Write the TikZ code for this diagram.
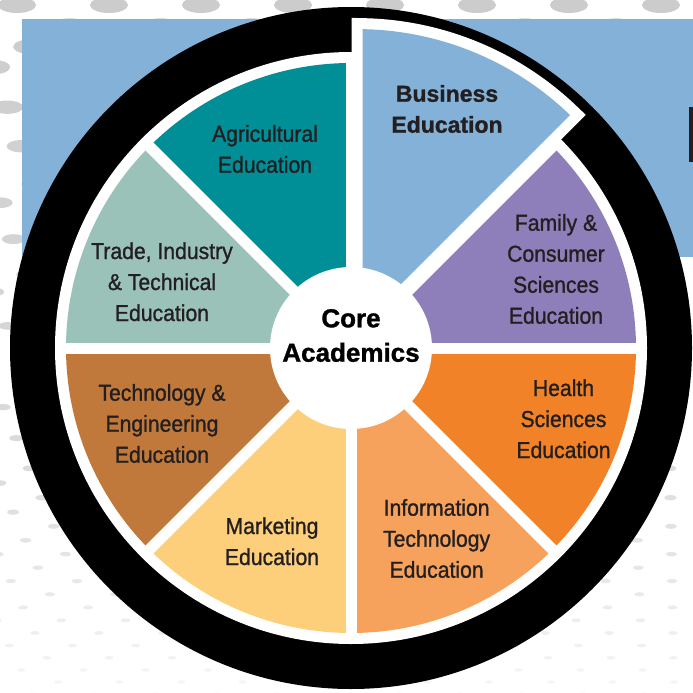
\documentclass[tikz,border=0pt]{standalone}
\usepackage{fontspec}
\setmainfont{Liberation Sans}
\newfontfamily\condfont[FakeStretch=0.92,FakeBold=1.1]{Liberation Sans}
\newfontfamily\heavyfont[FakeBold=1.2]{Liberation Sans}
\definecolor{txt}{HTML}{231F20}
\definecolor{bgblue}{HTML}{84B1D8}
\definecolor{cBiz}{HTML}{84B1D8}
\definecolor{cFam}{HTML}{8E7FBA}
\definecolor{cHea}{HTML}{F28228}
\definecolor{cInf}{HTML}{F6A25D}
\definecolor{cMar}{HTML}{FDCF7B}
\definecolor{cTec}{HTML}{C0793A}
\definecolor{cTra}{HTML}{9BC2B9}
\definecolor{cAgr}{HTML}{008E97}
\newcommand\stk[1]{\vtop{\halign{\hfil##\hfil\cr#1\crcr}}}
\begin{document}
\begin{tikzpicture}[x=1pt,y=-1pt,
  lbl/.style={anchor=base,inner sep=0pt,text=txt,font=\condfont\fontsize{23}{31}\selectfont},
  boldlbl/.style={anchor=base,inner sep=0pt,text=txt,font=\heavyfont\bfseries\fontsize{23}{31}\selectfont},
  corelbl/.style={anchor=base,inner sep=0pt,text=black,font=\heavyfont\bfseries\fontsize{26}{34.4}\selectfont},
  gapline/.style={white,line width=11pt}]
\useasboundingbox (0,0) rectangle (693,693);
\fill[white] (0,0) rectangle (693,693);
% halftone dots
\foreach \yy [count=\k] in {5,26,46.7,67.1,87.3,107.2,126.8,146.2,165.3,184.1,202.7,221,239.1,256.9,274.5,291.9,309,325.9,342.6,359.1,375.3,391.3,407.1,422.7,438.1,453.3,468.3,483.1,497.7,512.1,526.3,540.3,554.1,567.7,581.1,594.3,607.4,620.3,633,645.5,657.8,670,682,694}{
  \pgfmathsetmacro\s{1-0.000493*(\yy-5)}
  \pgfmathsetmacro\rx{\yy<360 ? 19-0.031*(\yy-5) : 8-0.0125*(\yy-360)}
  \pgfmathsetmacro\ry{0.42*\rx}
  \pgfmathsetmacro\gr{\yy<470 ? 20-0.0129*(\yy-5) : 14-0.0476*(\yy-470)}
  \pgfmathsetmacro\off{mod(\k+1,2)*46}
  \foreach \n in {-6,...,9}{
    \pgfmathsetmacro\xx{700+(-683+92*\n+\off)*\s}
    \fill[black!\gr] (\xx,\yy) ellipse[x radius=\rx, y radius=\ry];
  }
}
% blue band and bar
\fill[bgblue] (22,19) rectangle (693,257);
\fill[txt] (689,107) rectangle (693,162);
% wheel
\coordinate (c) at (351,348);
\fill[black] (c) circle[radius=341];
\fill[white] (c) circle[radius=296];
\fill[cFam] (c) -- ++(-45:285) arc[start angle=-45,end angle=0,radius=285] -- cycle;
\fill[cHea] (c) -- ++(0:285) arc[start angle=0,end angle=45,radius=285] -- cycle;
\fill[cInf] (c) -- ++(45:285) arc[start angle=45,end angle=90,radius=285] -- cycle;
\fill[cMar] (c) -- ++(90:285) arc[start angle=90,end angle=135,radius=285] -- cycle;
\fill[cTec] (c) -- ++(135:285) arc[start angle=135,end angle=180,radius=285] -- cycle;
\fill[cTra] (c) -- ++(180:285) arc[start angle=180,end angle=225,radius=285] -- cycle;
\fill[cAgr] (c) -- ++(225:285) arc[start angle=225,end angle=270,radius=285] -- cycle;
\foreach \a in {0,45,...,315}{\draw[gapline] (c) -- ++(\a:291);}
% exploded business segment
\fill[cBiz,preaction={draw=white,line width=22pt,line join=miter}]
  (362.7,322.3) -- (362.7,29.15) arc[start angle=-88.97,end angle=-46.03,radius=306.5] -- cycle;
% centre
\node[circle,fill=white,minimum size=162pt,inner sep=0pt] (core) at (c) {};
\node[corelbl] (coretxt) at (351,327.3) {\stk{Core\cr Academics}};
% labels
\node[boldlbl] (biz) at (447,101.7) {\stk{Business\cr Education}};
\node[lbl] (fam) at (556,230.7) {\stk{Family \&\cr Consumer\cr Sciences\cr Education}};
\node[lbl] (hea) at (563.5,396) {\stk{Health\cr Sciences\cr Education}};
\node[lbl] (inf) at (436.6,515.7) {\stk{Information\cr Technology\cr Education}};
\node[lbl] (mar) at (272,534) {\stk{Marketing\cr Education}};
\node[lbl] (tec) at (162,400.7) {\stk{Technology \&\cr Engineering\cr Education}};
\node[lbl] (tra) at (162,259) {\stk{Trade, Industry\cr \& Technical\cr Education}};
\node[lbl] (agr) at (265,141.7) {\stk{Agricultural\cr Education}};
\end{tikzpicture}
\end{document}
